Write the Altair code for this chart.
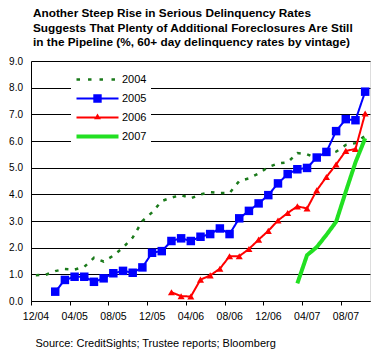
import altair as alt
import pandas as pd

# ---- data ----
tick_labels = ["12/04", "04/05", "08/05", "12/05", "04/06", "08/06", "12/06", "04/07", "08/07"]
n_months = 35  # Dec 2004 .. Oct 2007

series_names = ["2004", "2005", "2006", "2007"]
series_colors = ["#1B7A1B", "#0000FF", "#FF0000", "#22E022"]
series_widths = [2.5, 2, 2, 4]
series_dashes = [[3.5, 6.5], [1, 0], [1, 0], [1, 0]]
series_start = [0, 2, 14, 27]  # month index of first observation (0 = Dec 2004)

v2004 = [0.97, 0.98, 1.12, 1.20, 1.18, 1.28, 1.62, 1.48, 1.70, 2.00, 2.38, 3.00,
         3.32, 3.75, 3.88, 3.97, 3.85, 4.00, 4.08, 4.05, 4.05, 4.50, 4.60, 4.78,
         5.02, 5.16, 5.20, 5.55, 5.50, 5.35, 5.50, 5.60, 5.85, 5.92, 6.20]
v2005 = [0.35, 0.79, 0.91, 0.91, 0.72, 0.85, 1.04, 1.13, 1.06, 1.26, 1.81, 1.87,
         2.25, 2.35, 2.25, 2.41, 2.51, 2.72, 2.51, 3.10, 3.38, 3.66, 3.97, 4.41,
         4.76, 4.94, 4.99, 5.38, 5.59, 6.37, 6.82, 6.78, 7.85]
v2006 = [0.33, 0.18, 0.17, 0.80, 0.96, 1.21, 1.68, 1.68, 1.95, 2.30, 2.63, 3.02,
         3.30, 3.55, 3.47, 4.15, 4.65, 5.12, 5.63, 5.70, 7.03]
v2007 = [0.66, 1.72, 2.02, 2.48, 2.97, 4.10, 5.20, 6.10]
all_values = [v2004, v2005, v2006, v2007]

source_text = "Source: CreditSights; Trustee reports; Bloomberg"
title_lines = ["Another Steep Rise in Serious Delinquency Rates",
               "Suggests That Plenty of Additional Foreclosures Are Still",
               "in the Pipeline (%, 60+ day delinquency rates by vintage)"]

# ---- build table ----
rows = []
for name, start, vals in zip(series_names, series_start, all_values):
    for i, v in enumerate(vals):
        rows.append({"series": name, "vintage": name, "m": start + i + 0.5, "value": v})
df = pd.DataFrame(rows)

FONT = "Liberation Sans"

label_array = "[" + ",".join("'%s'" % t for t in tick_labels) + "]"

x_enc = alt.X("m:Q",
              scale=alt.Scale(domain=[0, n_months], nice=False, zero=False),
              axis=alt.Axis(values=list(range(0, 33, 4)),
                            labelExpr=label_array + "[round(datum.value/4)]",
                            labelOffset=4.5, labelPadding=6, tickSize=4,
                            tickColor="black", domainColor="black", grid=False,
                            labelOverlap=False, labelFlush=False,
                            labelFontSize=10.5, labelFont=FONT, labelColor="black",
                            title=source_text, titleX=4, titleY=45,
                            titleAlign="left", titleBaseline="alphabetic",
                            titleFontWeight="normal", titleFontSize=11,
                            titleFont=FONT, titleColor="black"))
y_enc = alt.Y("value:Q",
              scale=alt.Scale(domain=[0, 9], nice=False),
              axis=alt.Axis(values=list(range(0, 10)), format=".1f", grid=True,
                            gridColor="black", gridWidth=1, gridOpacity=1,
                            domainColor="black", ticks=False, labelPadding=8.5,
                            labelOverlap=False, labelFlush=False,
                            labelFontSize=10, labelFont=FONT, labelColor="black",
                            title=None))

base = alt.Chart(df).encode(x=x_enc, y=y_enc)

layers = []
for name, col, w, d in zip(series_names, series_colors, series_widths, series_dashes):
    layers.append(
        base.transform_filter(alt.datum.series == name).mark_line(
            color=col, strokeWidth=w, strokeDash=d))
    if name == "2005":
        layers.append(
            base.transform_filter(alt.datum.series == name).mark_point(
                shape="square", filled=True, size=72, opacity=1, color=col))
    if name == "2006":
        layers.append(
            base.transform_filter(alt.datum.series == name).mark_point(
                shape="triangle-up", filled=True, size=50, opacity=1, color=col))

# legend symbols (unit = 4 px)
dash_path = ("M-1,-0.3H-0.12V0.3H-1Z M1.88,-0.3H2.75V0.3H1.88Z "
             "M4.75,-0.3H5.62V0.3H4.75Z M7.75,-0.3H8.62V0.3H7.75Z")
sq_path = "M-1,-0.25H9.5V0.25H-1Z M3.2,-1.05H5.3V1.05H3.2Z"
tri_path = "M-1,-0.25H9.5V0.25H-1Z M4.25,-1L5.1,0.45H3.4Z"
thick_path = "M-1,-0.5H9.5V0.5H-1Z"

legend_layer = base.transform_filter("false").mark_point(
    filled=True, opacity=1, strokeWidth=0
).encode(
    fill=alt.Fill("vintage:N", scale=alt.Scale(domain=series_names, range=series_colors),
                  legend=alt.Legend(
                      title=None, orient="none", legendX=40, legendY=9, fillColor="white",
                      padding=4, symbolSize=64, symbolStrokeWidth=0, labelOffset=36,
                      labelFontSize=11, labelFont=FONT, labelColor="black", rowPadding=7,
                      symbolOpacity=1)),
    shape=alt.Shape("vintage:N", scale=alt.Scale(
        domain=series_names, range=[dash_path, sq_path, tri_path, thick_path])),
)
layers.append(legend_layer)

chart = alt.layer(*layers).properties(
    width=339, height=240,
    autosize=alt.AutoSizeParams(type="none"),
    padding={"left": 23, "top": 53, "right": 2, "bottom": 48},
    title=alt.TitleParams(text=title_lines, anchor="start", frame="group",
                          fontSize=11.8, font=FONT, fontWeight="bold",
                          lineHeight=14.5, offset=7, dx=2, color="black"),
).configure_view(stroke=None).configure(background="white")

chart.save("out.html", embed_options={"renderer": "svg", "actions": False})
